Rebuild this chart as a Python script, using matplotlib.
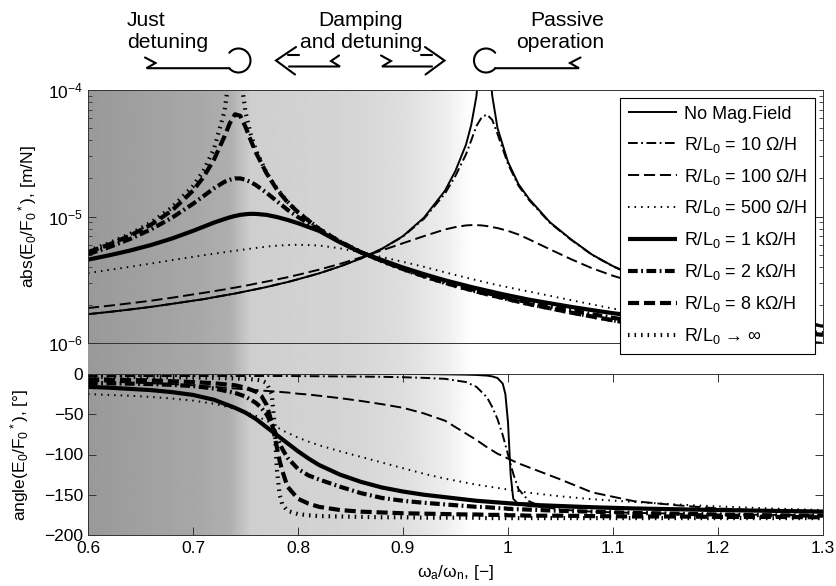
import matplotlib
matplotlib.use("Agg")
import matplotlib.pyplot as plt
import numpy as np
from matplotlib import font_manager
from matplotlib.ticker import LogLocator, NullFormatter

plt.rcParams["font.family"] = ["Liberation Sans", "DejaVu Sans"]
plt.rcParams["mathtext.fontset"] = "custom"
plt.rcParams["mathtext.rm"] = "Liberation Sans"
plt.rcParams["mathtext.it"] = "Liberation Sans:italic"
plt.rcParams["mathtext.bf"] = "Liberation Sans:bold"
plt.rcParams["lines.scale_dashes"] = False
plt.rcParams["axes.linewidth"] = 0.7

# ── values ────────────────────────────────────────────────────────────────────
# magnitude, in 1e-6 m/N
freq_mag = [0.60, 0.62, 0.64, 0.66, 0.68, 0.70, 0.71, 0.72, 0.73, 0.735, 0.74, 0.745,
            0.75, 0.755, 0.76, 0.77, 0.78, 0.79, 0.80, 0.82, 0.84, 0.86, 0.88, 0.90,
            0.92, 0.94, 0.95, 0.96, 0.965, 0.97, 0.975, 0.98, 0.985, 0.99, 1.00, 1.01,
            1.02, 1.04, 1.06, 1.08, 1.10, 1.13, 1.16, 1.20, 1.25, 1.30]
mag_no_field = [1.69, 1.76, 1.84, 1.93, 2.04, 2.16, 2.22, 2.30, 2.38, 2.42, 2.46, 2.51,
                2.56, 2.61, 2.66, 2.77, 2.90, 3.03, 3.19, 3.55, 4.03, 4.66, 5.56, 7.0,
                9.8, 16.0, 23.0, 37.0, 53.0, 90.0, 300.0, 250.0, 90.0, 50.0, 27.0, 18.0,
                13.8, 9.0, 6.6, 5.0, 4.05, 3.15, 2.58, 2.07, 1.66, 1.37]
mag_r10 = [1.69, 1.76, 1.84, 1.93, 2.04, 2.16, 2.22, 2.30, 2.38, 2.42, 2.46, 2.51,
           2.56, 2.61, 2.66, 2.77, 2.90, 3.03, 3.19, 3.55, 4.03, 4.66, 5.55, 6.95,
           9.6, 15.2, 21.0, 31.0, 40.0, 52.0, 61.0, 64.0, 58.0, 45.0, 26.0, 17.5,
           13.5, 8.9, 6.55, 4.98, 4.03, 3.14, 2.57, 2.06, 1.65, 1.37]
mag_r100 = [1.89, 1.97, 2.06, 2.16, 2.28, 2.42, 2.49, 2.57, 2.65, 2.70, 2.74, 2.79,
            2.84, 2.89, 2.95, 3.06, 3.18, 3.31, 3.46, 3.80, 4.22, 4.75, 5.40, 6.15,
            7.0, 7.9, 8.25, 8.5, 8.55, 8.55, 8.5, 8.4, 8.25, 8.1, 7.7, 7.2,
            6.6, 5.5, 4.6, 3.9, 3.4, 2.85, 2.42, 2.0, 1.62, 1.34]
mag_r500 = [3.57, 3.78, 4.0, 4.25, 4.52, 4.80, 4.94, 5.08, 5.22, 5.29, 5.36, 5.43,
            5.50, 5.57, 5.64, 5.78, 5.88, 5.95, 5.98, 5.90, 5.60, 5.20, 4.78, 4.38,
            4.0, 3.62, 3.45, 3.29, 3.21, 3.14, 3.07, 3.0, 2.93, 2.87, 2.76, 2.65,
            2.55, 2.36, 2.18, 2.02, 1.87, 1.70, 1.57, 1.44, 1.31, 1.22]
mag_1k = [4.56, 4.93, 5.38, 5.95, 6.7, 7.7, 8.3, 8.95, 9.55, 9.85, 10.1, 10.3,
          10.42, 10.5, 10.48, 10.3, 9.9, 9.4, 8.85, 7.7, 6.25, 5.2, 4.52, 3.95,
          3.5, 3.13, 2.98, 2.84, 2.77, 2.71, 2.65, 2.59, 2.54, 2.48, 2.38, 2.29,
          2.20, 2.06, 1.93, 1.82, 1.72, 1.60, 1.50, 1.38, 1.26, 1.16]
mag_2k = [5.04, 5.72, 6.64, 7.91, 9.78, 12.6, 14.5, 16.7, 18.8, 19.5, 20.0, 20.0,
          19.5, 18.7, 17.7, 15.4, 13.2, 11.3, 9.9, 7.85, 6.3, 5.21, 4.48, 3.88,
          3.41, 3.04, 2.88, 2.74, 2.67, 2.60, 2.54, 2.48, 2.43, 2.37, 2.27, 2.18,
          2.09, 1.94, 1.81, 1.69, 1.58, 1.45, 1.34, 1.21, 1.08, 0.98]
mag_8k = [5.22, 6.0, 7.06, 8.61, 11.16, 16.0, 20.5, 28.2, 43.0, 54.5, 64.3, 62.5,
          51.1, 40.0, 31.9, 22.0, 16.3, 13.0, 10.8, 7.98, 6.32, 5.21, 4.45, 3.84,
          3.37, 2.99, 2.83, 2.69, 2.62, 2.55, 2.49, 2.43, 2.37, 2.32, 2.22, 2.12,
          2.03, 1.88, 1.74, 1.62, 1.51, 1.37, 1.26, 1.12, 0.99, 0.89]
mag_inf = [5.34, 6.14, 7.26, 8.95, 11.8, 17.4, 23.0, 34.3, 68.0, 136.0, 500.0, 135.0,
           67.0, 44.6, 33.4, 22.1, 16.5, 13.1, 10.85, 8.03, 6.34, 5.22, 4.42, 3.82,
           3.35, 2.98, 2.82, 2.68, 2.61, 2.55, 2.49, 2.43, 2.37, 2.32, 2.21, 2.12,
           2.03, 1.88, 1.74, 1.62, 1.51, 1.37, 1.26, 1.12, 0.99, 0.88]

# phase, degrees
freq_ph = [0.60, 0.62, 0.64, 0.66, 0.68, 0.70, 0.72, 0.74, 0.75, 0.76, 0.765, 0.77,
           0.775, 0.7775, 0.78, 0.7825, 0.785, 0.79, 0.80, 0.81, 0.82, 0.84, 0.86, 0.88,
           0.90, 0.92, 0.94, 0.96, 0.97, 0.98, 0.985, 0.99, 0.995, 0.9975, 1.00, 1.0025,
           1.005, 1.01, 1.02, 1.03, 1.05, 1.08, 1.12, 1.16, 1.20, 1.25, 1.30]
ph_no_field = [0, 0, 0, 0, 0, 0, 0, 0, 0, 0, 0, 0,
               0, 0, 0, 0, 0, 0, 0, 0, 0, 0, 0, 0,
               0, 0, -0.4, -0.8, -1.2, -2, -3, -5, -12, -25, -60, -125,
               -155, -162, -164, -165, -165.5, -166.5, -167.5, -168, -168.5, -169.5, -170]
ph_r10 = [-2.5, -2.5, -2.5, -2.5, -2.5, -2.5, -2.5, -2.5, -2.5, -2.5, -2.5, -2.5,
          -2.5, -2.5, -2.5, -2.5, -2.5, -2.5, -2.6, -2.7, -2.8, -3, -3.2, -3.5,
          -4, -4.8, -6, -10, -16, -29, -41, -56, -76, -88, -100, -112,
          -124, -143, -158, -164, -168.5, -171, -172.5, -173.5, -174.5, -175, -175.5]
ph_r100 = [-8.5, -9.5, -10.5, -11.5, -12.5, -14, -16, -18, -19, -20, -20.5, -21,
           -21.5, -21.7, -22, -22.2, -22.5, -23, -24.5, -25.5, -27, -30, -33.5, -37.5,
           -42, -49, -58, -74, -82, -91, -95, -99, -102, -103.5, -105, -106.5,
           -108, -111, -116, -121, -131, -147, -158, -163, -167, -170, -172]
ph_r500 = [-25, -26, -27, -28.5, -30.5, -33, -37, -43, -47, -52, -55, -58,
           -62, -64, -66, -68, -70, -73, -79, -84, -88.5, -96, -103, -110,
           -117, -124, -130, -135, -137.5, -139.5, -140.5, -141.5, -142.5, -143, -143.5, -144,
           -144.5, -145.5, -147.5, -149, -152, -155.5, -159, -162, -164.5, -167, -169]
ph_1k = [-16, -17, -18.5, -20, -22.5, -26, -32, -42, -48, -56, -61, -66,
         -71, -73.5, -76, -78.5, -81, -86, -96, -105, -113, -125, -134, -141,
         -146, -150, -153, -156, -157.5, -158.5, -159, -159.5, -160, -160.2, -160.5, -160.7,
         -161, -161.5, -162, -163, -164, -165.5, -167, -168, -169, -170, -171]
ph_2k = [-11, -11.5, -12, -12.5, -13.5, -15, -18, -23.5, -28, -36, -42, -50,
         -62, -70, -78, -86, -93, -104, -118, -126, -131, -140, -148, -154,
         -157.5, -160, -162, -164, -165, -165.5, -166, -166.5, -167, -167, -167.5, -167.5,
         -168, -168, -168.5, -169, -170, -171, -172.5, -173.5, -174.5, -175.5, -176]
ph_8k = [-6.5, -7, -7.5, -8, -9, -10, -11.5, -14, -17, -22, -27, -38,
         -60, -76, -92, -108, -120, -140, -155, -161, -165, -169, -171, -172,
         -173, -173.5, -174, -174.5, -174.5, -175, -175, -175, -175, -175, -175.5, -175.5,
         -175.5, -175.5, -176, -176, -176, -176.5, -177, -177, -177.5, -177.5, -178]
ph_inf = [-3.5, -3.5, -3.7, -3.8, -4, -4.3, -4.8, -5.5, -6, -7, -8, -11,
          -25, -60, -120, -150, -162, -170, -174, -175.5, -176.5, -177, -177.5, -178,
          -178, -178.5, -178.5, -178.5, -178.5, -179, -179, -179, -179, -179, -179, -179,
          -179, -179, -179, -179, -179, -179, -179, -179, -179, -179, -179]

labels = ["No Mag.Field",
          r"R/L$\mathregular{_0}$ = 10 Ω/H",
          r"R/L$\mathregular{_0}$ = 100 Ω/H",
          r"R/L$\mathregular{_0}$ = 500 Ω/H",
          r"R/L$\mathregular{_0}$ = 1 kΩ/H",
          r"R/L$\mathregular{_0}$ = 2 kΩ/H",
          r"R/L$\mathregular{_0}$ = 8 kΩ/H",
          r"R/L$\mathregular{_0}$ → ∞"]
magnitudes = [mag_no_field, mag_r10, mag_r100, mag_r500, mag_1k, mag_2k, mag_8k, mag_inf]
phases = [ph_no_field, ph_r10, ph_r100, ph_r500, ph_1k, ph_2k, ph_8k, ph_inf]

# background shading (grey level vs frequency ratio)
shade_x = [0.60, 0.70, 0.735, 0.745, 0.755, 0.85, 0.90, 0.94, 0.965, 1.30]
shade_v = [0.60, 0.655, 0.685, 0.75, 0.81, 0.835, 0.87, 0.93, 1.0, 1.0]

# ── styles ────────────────────────────────────────────────────────────────────
THIN, THICK = 1.4, 3.0
DASHDOT = (0, (7, 2.5, 1.3, 2.5))
DASHED = (0, (8, 3.5))
DOTTED = (0, (1.1, 3.6))
line_styles = [("-", THIN), (DASHDOT, THIN), (DASHED, THIN), (DOTTED, THIN),
               ("-", THICK), (DASHDOT, THICK), (DASHED, THICK), (DOTTED, THICK)]

FS = 12.5
W, H = 836, 586
fig = plt.figure(figsize=(W / 100, H / 100), dpi=100)

left, width = 88 / W, 735 / W
bg = fig.add_axes([left, 1 - 535 / H, width, 445 / H], zorder=0)
gx = np.linspace(0.6, 1.3, 800)
bg.imshow(np.interp(gx, shade_x, shade_v)[None, :], cmap="gray", vmin=0, vmax=1,
          aspect="auto", extent=(0.6, 1.3, 0, 1), interpolation="bilinear")
bg.set_xlim(0.6, 1.3)
bg.axis("off")

ax1 = fig.add_axes([left, 1 - 343 / H, width, 253 / H], zorder=1)
ax2 = fig.add_axes([left, 1 - 535 / H, width, 161 / H], zorder=1)
for ax in (ax1, ax2):
    ax.set_facecolor("none")
    for s in ax.spines.values():
        s.set_color("#333333")

handles = []
for mag, ph, lab, (ls, lw) in zip(magnitudes, phases, labels, line_styles):
    h, = ax1.plot(freq_mag, np.array(mag) * 1e-6, color="black", ls=ls, lw=lw,
                  label=lab, solid_capstyle="butt", dash_capstyle="butt")
    ax2.plot(freq_ph, ph, color="black", ls=ls, lw=lw,
             solid_capstyle="butt", dash_capstyle="butt")
    handles.append(h)

ax1.set_yscale("log")
ax1.set_ylim(1e-6, 1e-4)
ax1.set_xlim(0.6, 1.3)
ax1.set_xticks([])
ax1.yaxis.set_major_locator(LogLocator(base=10))
ax1.yaxis.set_minor_locator(LogLocator(base=10, subs=np.arange(2, 10)))
ax1.yaxis.set_minor_formatter(NullFormatter())
ax1.tick_params(axis="y", which="both", direction="in", left=True, right=True,
                labelsize=FS, pad=3.5, color="#333333")
ax1.tick_params(axis="y", which="major", length=5.5, width=0.7)
ax1.tick_params(axis="y", which="minor", length=3, width=0.6)
ax1.set_ylabel(r"abs(E$\mathregular{_0}$/F$\mathregular{_0}$$\mathregular{^*}$), [m/N]",
               fontsize=FS)
ax1.yaxis.set_label_coords(-0.067, 0.5)

ax2.set_xlim(0.6, 1.3)
ax2.set_ylim(-200, 0)
ax2.set_xticks([0.6, 0.7, 0.8, 0.9, 1.0, 1.1, 1.2, 1.3])
ax2.set_xticklabels(["0.6", "0.7", "0.8", "0.9", "1", "1.1", "1.2", "1.3"])
ax2.set_yticks([-200, -150, -100, -50, 0])
ax2.tick_params(which="both", direction="in", top=True, right=True, labelsize=FS,
                length=5.5, width=0.7, color="#333333")
ax2.tick_params(axis="x", pad=4)
ax2.tick_params(axis="y", pad=3.5)
ax2.set_ylabel(r"angle(E$\mathregular{_0}$/F$\mathregular{_0}$$\mathregular{^*}$), [°]",
               fontsize=FS)
ax2.yaxis.set_label_coords(-0.077, 0.5)
ax2.set_xlabel(r"ω$\mathregular{_a}$/ω$\mathregular{_n}$, [−]", fontsize=FS, labelpad=5)

leg = ax1.legend(handles=handles, loc="upper right", fontsize=13, frameon=True,
                 fancybox=False, framealpha=1, edgecolor="black", borderaxespad=0.42,
                 handlelength=2.7, handletextpad=0.4, labelspacing=0.66, borderpad=0.45)
leg.get_frame().set_linewidth(0.8)
leg.set_zorder(10)

# ── annotations above the plot (pixel coordinates) ───────────────────────────
ov = fig.add_axes([0, 0, 1, 1], zorder=5)
ov.set_xlim(0, W)
ov.set_ylim(H, 0)
ov.axis("off")

try:
    font_manager.findfont(font_manager.FontProperties(family="Liberation Sans Narrow"),
                          fallback_to_default=False)
    note_family, note_size = "Liberation Sans Narrow", 18.5
except ValueError:
    note_family, note_size = "Liberation Sans", 15.2

note = dict(fontsize=note_size, family=note_family, va="baseline")
ov.text(127, 26, "Just", ha="left", **note)
ov.text(127, 48, "detuning", ha="left", **note)
ov.text(360, 26, "Damping", ha="center", **note)
ov.text(361, 48, "and detuning", ha="center", **note)
ov.text(604, 26, "Passive", ha="right", **note)
ov.text(604, 48, "operation", ha="right", **note)

arrow_kw = dict(color="black", lw=1.5, solid_capstyle="round", solid_joinstyle="miter")
# just detuning: tail + line + stop ring
ov.plot([145, 155.5, 146.5, 229.3], [57.5, 63, 68.2, 68.2], **arrow_kw)
t = np.radians(np.linspace(-140, 140, 80))
ov.plot(238.5 + 12 * np.cos(t), 60.5 - 12 * np.sin(t), **arrow_kw)
# damping and detuning: hollow arrows left and right
ov.plot([296, 276, 295], [47, 60.5, 74.5], **arrow_kw)
ov.plot([288, 299], [55, 55], **arrow_kw)
ov.plot([289, 340, 331, 339], [66.5, 66.5, 61, 55.5], **arrow_kw)
ov.plot([425, 444.5, 425.5], [47, 60.5, 74.5], **arrow_kw)
ov.plot([421, 432], [55, 55], **arrow_kw)
ov.plot([381, 391, 382, 432], [55.5, 61, 66.5, 66.5], **arrow_kw)
# passive operation: ring + line + tail
t = np.radians(np.linspace(40, 320, 80))
ov.plot(486 + 12 * np.cos(t), 60.5 - 12 * np.sin(t), **arrow_kw)
ov.plot([495.2, 579, 570, 580.5], [68.2, 68.2, 63, 57.5], **arrow_kw)

fig.savefig("out.png", dpi=100)
